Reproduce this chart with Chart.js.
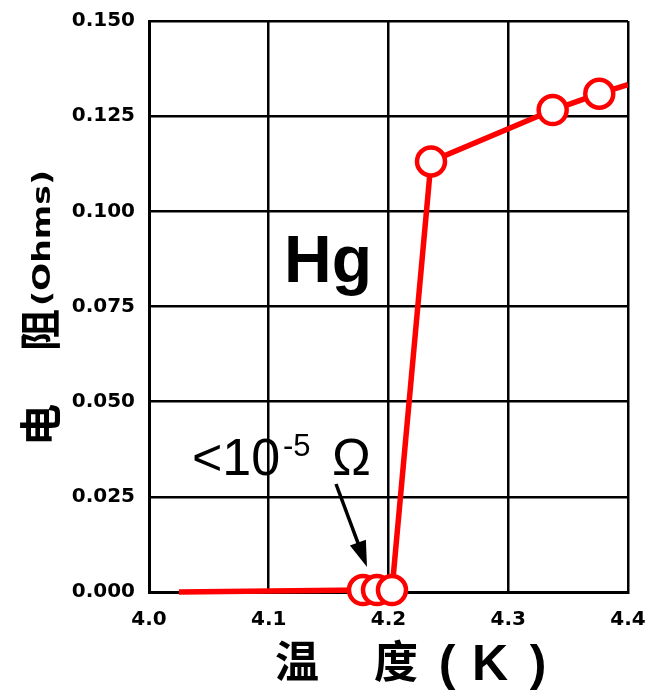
<!DOCTYPE html>
<html>
<head>
<meta charset="utf-8">
<script src="https://cdn.jsdelivr.net/npm/chart.js@4.4.1/dist/chart.umd.min.js"></script>
<style>
  html, body { margin: 0; padding: 0; background: #fff; }
  #wrap { width: 648px; height: 692px; }
</style>
</head>
<body>
<div id="wrap"><canvas id="c" width="648" height="692"></canvas></div>
<script>
// Data
const temperatureK = [4.025, 4.1787, 4.1904, 4.2029, 4.2355, 4.3371, 4.376, 4.4];
const resistanceOhm = [0.0, 0.0005, 0.0005, 0.0005, 0.1131, 0.1266, 0.1309, 0.1333];
const showMarker = [false, true, true, true, true, true, true, false];
const xTicks = [4.0, 4.1, 4.2, 4.3, 4.4];
const yTicks = [0.000, 0.025, 0.050, 0.075, 0.100, 0.125, 0.150];
const sampleLabel = 'Hg';
const annotationMain = '<10';
const annotationSup = '-5';
const annotationUnit = 'Ω';
const xTitleParts = ['温', '度', '(', 'K', ')'];
const yTitleParts = ['电', '阻', '(Ohms)'];

const points = temperatureK.map((t, i) => ({ x: t, y: resistanceOhm[i] }));

const TICK_FONT = { family: 'DejaVu Sans', size: 20, weight: 'bold' };

const decorPlugin = {
  id: 'decor',
  afterDraw(chart) {
    const ctx = chart.ctx;
    ctx.save();
    ctx.fillStyle = '#000';
    ctx.strokeStyle = '#000';

    // Hg label
    ctx.font = 'bold 66px "Liberation Sans", Arial, sans-serif';
    ctx.textAlign = 'center';
    ctx.textBaseline = 'alphabetic';
    ctx.fillText(sampleLabel, 328, 282);

    // annotation <10^-5 Ω
    ctx.textAlign = 'left';
    ctx.font = '52px "Liberation Sans", Arial, sans-serif';
    ctx.fillText(annotationMain, 192, 475);
    ctx.font = '31px "Liberation Sans", Arial, sans-serif';
    ctx.fillText(annotationSup, 283, 456);
    ctx.font = '52px "Liberation Sans", Arial, sans-serif';
    ctx.fillText(annotationUnit, 332, 475);

    // arrow pointing at the low-temperature points
    const x0 = 336, y0 = 484, x1 = 367, y1 = 567;
    const dx = x1 - x0, dy = y1 - y0, L = Math.hypot(dx, dy);
    const ux = dx / L, uy = dy / L, px = -uy, py = ux;
    const headLen = 26, headW = 8.5;
    const bx = x1 - ux * headLen, by = y1 - uy * headLen;
    ctx.lineWidth = 3.5;
    ctx.beginPath();
    ctx.moveTo(x0, y0);
    ctx.lineTo(bx + ux * 2, by + uy * 2);
    ctx.stroke();
    ctx.beginPath();
    ctx.moveTo(x1, y1);
    ctx.lineTo(bx + px * headW, by + py * headW);
    ctx.lineTo(bx - px * headW, by - py * headW);
    ctx.closePath();
    ctx.fill();

    // x-axis title
    ctx.textAlign = 'center';
    ctx.textBaseline = 'middle';
    ctx.font = 'bold 44px "Noto Sans CJK SC", sans-serif';
    ctx.fillText(xTitleParts[0], 297, 661);
    ctx.fillText(xTitleParts[1], 396, 661);
    ctx.textBaseline = 'alphabetic';
    ctx.font = 'bold 50px "Liberation Sans", Arial, sans-serif';
    ctx.fillText(xTitleParts[2], 447, 680);
    ctx.fillText(xTitleParts[3], 490, 680);
    ctx.fillText(xTitleParts[4], 538, 680);

    // y-axis title (rotated)
    const drawRot = (txt, cx, cy, font, targetLen) => {
      ctx.save();
      ctx.translate(cx, cy);
      ctx.rotate(-Math.PI / 2);
      ctx.font = font;
      ctx.textAlign = 'center';
      ctx.textBaseline = 'middle';
      if (targetLen) {
        const w = ctx.measureText(txt).width;
        ctx.scale(targetLen / w, 1);
      }
      ctx.fillText(txt, 0, 0);
      ctx.restore();
    };
    drawRot(yTitleParts[0], 40, 425, 'bold 42px "Noto Sans CJK SC", sans-serif');
    drawRot(yTitleParts[1], 40, 330, 'bold 42px "Noto Sans CJK SC", sans-serif');
    drawRot(yTitleParts[2], 43, 238, 'bold 25px "DejaVu Sans", sans-serif', 136);

    ctx.restore();
  }
};

new Chart(document.getElementById('c'), {
  type: 'scatter',
  data: {
    datasets: [{
      data: points,
      showLine: true,
      borderColor: '#ff0000',
      borderWidth: 5.5,
      pointBackgroundColor: '#ffffff',
      pointBorderColor: '#ff0000',
      pointBorderWidth: 4.5,
      pointRadius: showMarker.map(s => s ? 14 : 0),
      pointHoverRadius: showMarker.map(s => s ? 14 : 0),
      tension: 0,
      clip: { left: 0, top: 20, right: 0, bottom: 20 }
    }]
  },
  options: {
    responsive: false,
    animation: false,
    events: [],
    layout: { padding: { left: 0, top: 21, right: 20, bottom: 0 } },
    plugins: { legend: { display: false }, tooltip: { enabled: false }, title: { display: false } },
    scales: {
      x: {
        type: 'linear',
        min: xTicks[0],
        max: xTicks[xTicks.length - 1],
        afterBuildTicks: (s) => { s.ticks = xTicks.map(v => ({ value: v })); },
        afterFit: (s) => { s.height = 100; s.paddingLeft = 0; s.paddingRight = 0; },
        grid: { color: '#000', lineWidth: 2.5, drawTicks: false },
        border: { display: true, color: '#000', width: 3 },
        ticks: {
          color: '#000',
          font: TICK_FONT,
          padding: 16,
          maxRotation: 0,
          callback: (v) => Number(v).toFixed(1)
        }
      },
      y: {
        type: 'linear',
        min: yTicks[0],
        max: yTicks[yTicks.length - 1],
        afterBuildTicks: (s) => { s.ticks = yTicks.map(v => ({ value: v })); },
        afterFit: (s) => { s.width = 149; s.paddingTop = 0; s.paddingBottom = 0; },
        grid: { color: '#000', lineWidth: 2.5, drawTicks: false },
        border: { display: true, color: '#000', width: 3 },
        ticks: {
          color: '#000',
          font: TICK_FONT,
          padding: 14,
          callback: (v) => Number(v).toFixed(3)
        }
      }
    }
  },
  plugins: [decorPlugin]
});
</script>
</body>
</html>
